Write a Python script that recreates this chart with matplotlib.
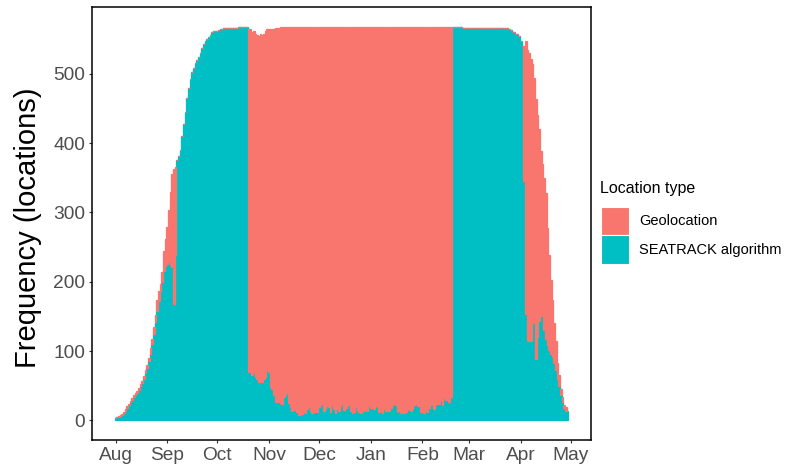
import numpy as np
import pandas as pd
import matplotlib
matplotlib.use("Agg")
import matplotlib.pyplot as plt
import matplotlib.dates as mdates
from matplotlib.patches import Rectangle

plt.rcParams['font.family'] = ['Liberation Sans', 'DejaVu Sans']

# daily counts, 1 Aug -> 29 Apr
start_date = "2017-08-01"
month_labels = ["Aug", "Sep", "Oct", "Nov", "Dec", "Jan", "Feb", "Mar", "Apr", "May"]
legend_labels = ["Geolocation", "SEATRACK algorithm"]

# total height of the stacked bar (all locations)
total_counts = [
    # Aug
    4, 5, 6, 7, 9, 12, 16, 20, 24, 28, 32, 36, 40, 43, 47, 52, 57, 64, 72, 80, 90, 105, 118, 134, 152, 173, 186, 197, 214, 245, 262,
    # Sep
    279, 303, 330, 355, 362, 365, 375, 382, 390, 410, 428, 445, 465, 480, 492, 502, 508, 515, 520, 524, 530, 537, 543, 547, 550, 553, 556, 560, 562, 562,
    # Oct
    562, 563, 564, 565, 566, 566, 566, 566, 566, 566, 566, 566, 566, 567, 567, 567, 567, 567, 567,
    565, 564, 560, 562, 558, 556, 555, 557, 556, 558, 562, 564,
    # Nov
    565, 565, 564, 565, 566, 566, 566, 567, 567, 567, 567, 567, 567, 567, 567, 567, 567, 567, 567, 567, 567, 567, 567, 567, 567, 567, 567, 567, 567, 567,
    # Dec
    568, 568, 568, 568, 568, 568, 568, 568, 568, 568, 568, 568, 568, 568, 568, 568, 568, 568, 568, 568, 568, 568, 568, 568, 568, 568, 568, 568, 568, 568, 568,
    # Jan
    568, 568, 568, 568, 568, 568, 568, 568, 568, 568, 568, 568, 568, 568, 568, 568, 568, 568, 568, 568, 568, 568, 568, 568, 568, 568, 568, 568, 568, 568, 568,
    # Feb
    568, 568, 568, 568, 568, 568, 568, 568, 568, 568, 568, 568, 568, 568, 568, 568, 568, 568,
    567, 567, 567, 567, 567, 567, 566, 566, 566, 566,
    # Mar
    566, 566, 566, 566, 566, 566, 566, 566, 566, 566, 566, 566, 566, 566, 566, 566, 566, 566, 566, 566, 566, 566, 566, 566, 565, 563, 561, 560, 558, 557, 555,
    # Apr
    548, 540, 540, 548, 535, 530, 522, 514, 494, 464, 440, 420, 389, 370, 350, 328, 277, 238, 202, 173, 140, 115, 82, 65, 45, 33, 22, 19, 14,
]

# SEATRACK algorithm part (bottom of the stack)
seatrack_counts = [
    # Aug
    4, 5, 5, 6, 8, 10, 14, 18, 22, 26, 29, 34, 37, 40, 44, 49, 54, 60, 68, 76, 86, 96, 110, 125, 142, 158, 172, 187, 200, 216, 222,
    # Sep
    226, 228, 224, 221, 168, 238, 375, 382, 390, 410, 428, 445, 465, 480, 492, 502, 508, 515, 520, 524, 530, 537, 543, 547, 550, 553, 556, 560, 562, 562,
    # Oct
    562, 563, 564, 565, 566, 566, 566, 566, 566, 566, 566, 566, 566, 567, 567, 567, 567, 567, 567,
    69, 69, 65, 69, 62, 60, 55, 58, 55, 60, 62, 72,
    # Nov
    70, 48, 45, 36, 26, 26, 26, 25, 24, 33, 36, 39, 25, 19, 14, 15, 22, 12, 8, 7, 9, 12, 11, 16, 19, 13, 10, 12, 16, 12,
    # Dec
    19, 22, 24, 13, 16, 20, 19, 12, 22, 17, 11, 16, 14, 20, 24, 15, 18, 22, 22, 14, 10, 12, 19, 15, 12, 11, 14, 13, 15, 14, 20,
    # Jan
    18, 20, 17, 20, 19, 12, 13, 11, 16, 14, 17, 13, 18, 22, 24, 22, 12, 13, 11, 14, 10, 12, 15, 17, 14, 16, 22, 23, 21, 20, 12,
    # Feb
    13, 11, 14, 12, 18, 22, 24, 16, 24, 27, 23, 29, 22, 32, 30, 33, 27, 33,
    567, 567, 567, 567, 567, 567, 566, 566, 566, 566,
    # Mar
    566, 566, 566, 566, 566, 566, 566, 566, 566, 566, 566, 566, 566, 566, 566, 566, 566, 566, 566, 566, 566, 566, 566, 566, 565, 563, 561, 560, 558, 557, 555,
    # Apr
    548, 540, 346, 154, 115, 115, 115, 158, 140, 89, 120, 144, 150, 154, 130, 118, 108, 102, 96, 91, 82, 72, 60, 50, 36, 26, 18, 14, 14,
]

geo_col = "#F8766D"
sea_col = "#00BFC4"

days = pd.date_range(start_date, periods=len(total_counts), freq="D")
seatrack = np.array(seatrack_counts)
geoloc = np.array(total_counts) - seatrack

W, H = 793, 466
fig = plt.figure(figsize=(W / 100, H / 100), dpi=100)
ax = fig.add_axes([92 / W, 1 - 440 / H, (591 - 92) / W, (440 - 7) / H])

# edge in the fill colour hides the hairline seams between adjacent bars
ax.bar(days, seatrack, width=1.0, color=sea_col, edgecolor=sea_col, linewidth=0.9)
ax.bar(days, geoloc, bottom=seatrack, width=1.0, color=geo_col, edgecolor=geo_col, linewidth=0.9)

x0 = mdates.date2num(days[0])
ax.set_xlim(x0 - 14.1, x0 + 285.1)
ax.set_ylim(-28.4, 596.4)

month_starts = pd.date_range(start_date, periods=len(month_labels), freq="MS")
ax.set_xticks(month_starts)
ax.set_xticklabels(month_labels)
ax.set_yticks([0, 100, 200, 300, 400, 500])

for s in ax.spines.values():
    s.set_color("black")
    s.set_linewidth(1.1)
    s.set_zorder(5)
ax.tick_params(length=2.5, width=0.8, color="#333333", labelcolor="#4D4D4D",
               labelsize=13.8, pad=2.5)

fig.text(28 / W, 1 - 228 / H, "Frequency (locations)", rotation=90,
         ha="center", va="center", fontsize=21)

# legend, drawn like ggplot's keys
fig.text(600 / W, 1 - 189 / H, "Location type", ha="left", va="center", fontsize=11.5)
key_cols = [geo_col, sea_col]
for i, (lab, col) in enumerate(zip(legend_labels, key_cols)):
    y_top = 206.5 + i * 28.7
    fig.add_artist(Rectangle((600.5 / W, 1 - (y_top + 28.7) / H), 28.7 / W, 28.7 / H,
                             transform=fig.transFigure, facecolor=col,
                             edgecolor="white", linewidth=0.8))
    fig.text(639 / W, 1 - (y_top + 14.5) / H, lab, ha="left", va="center", fontsize=10.5)

fig.savefig("out.png", dpi=100)
